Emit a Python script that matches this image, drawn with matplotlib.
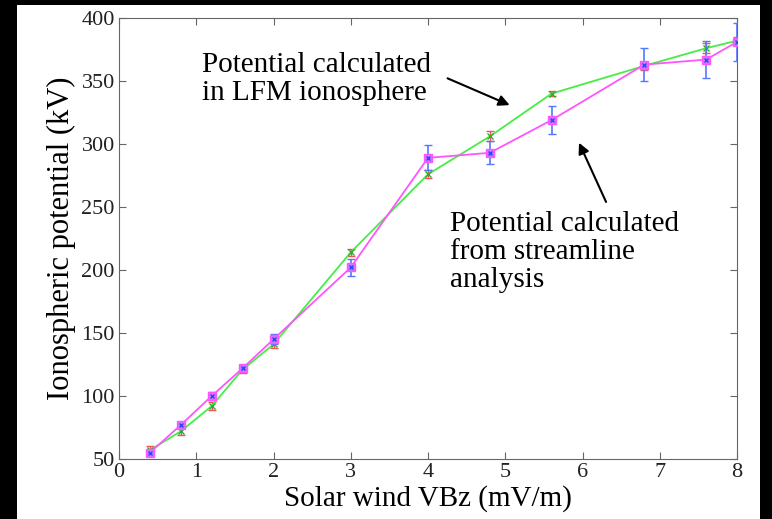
import matplotlib.pyplot as plt
from matplotlib.patches import Rectangle

plt.rcParams['font.family'] = ['Liberation Serif', 'DejaVu Serif']

vbz = [0.4, 0.8, 1.2, 1.6, 2.0, 3.0, 4.0, 4.8, 5.6, 6.8, 7.6, 8.0]

# potential from LFM ionosphere (green, red error bars)
lfm = [57, 72, 92, 121, 141, 214, 276, 306, 340, 362, 376, 382]
lfm_err = [3, 3, 3, 3, 3, 3, 3, 4, 2, 3, 4, 3]

# potential from streamline analysis (magenta, blue error bars)
stream = [55, 77, 100, 122, 145, 202, 289, 293, 319, 363, 367, 381]
stream_err = [2, 2, 3, 3, 4, 7, 10, 9, 11, 13, 15, 15]

fig = plt.figure(figsize=(7.72, 5.19), dpi=100, facecolor='black')
fig.patches.append(Rectangle((17/772, 0), (760-17)/772, (519-5)/519,
                             transform=fig.transFigure, facecolor='white',
                             edgecolor='none', zorder=-10))
ax = fig.add_axes([119/772, 1-459/519, (737-119)/772, (459-18)/519])

ax.errorbar(vbz, lfm, yerr=lfm_err, color='#44ee44', lw=1.3, ecolor='#ee5555',
            elinewidth=1, capsize=3, marker='x', ms=5, mec='#33aa33', zorder=3)
ax.errorbar(vbz, stream, yerr=stream_err, color='#ff55ff', lw=1.3, ecolor='#5577ff',
            elinewidth=1.2, capsize=3, marker='s', ms=6, mfc='#cc77ff',
            mec='#ff55ff', zorder=4)
ax.plot(vbz, stream, ls='none', marker='x', ms=3, color='#3344ff', zorder=5)

ax.set_xlim(0, 8)
ax.set_ylim(50, 400)
ax.set_xticks(range(0, 9))
ax.set_yticks(range(50, 401, 50))
ax.tick_params(direction='in', top=True, right=True, length=5, labelsize=16,
               color='#666666', labelcolor='#222222', pad=3)
for s in ax.spines.values():
    s.set_color('#666666')

ax.set_xlabel('Solar wind VBz (mV/m)', fontsize=21, labelpad=2)
ax.set_ylabel('Ionospheric potential (kV)', fontsize=22, labelpad=4)

ax.text(1.08, 373, 'Potential calculated\nin LFM ionosphere', fontsize=21,
        va='top', linespacing=1.1)
ax.annotate('', xy=(5.09, 330), xytext=(4.22, 353),
            arrowprops=dict(arrowstyle='-|>', color='black', lw=1.5,
                            mutation_scale=16))
ax.text(4.28, 247, 'Potential calculated\nfrom streamline\nanalysis', fontsize=21,
        va='top', linespacing=1.1)
ax.annotate('', xy=(5.94, 303), xytext=(6.32, 252),
            arrowprops=dict(arrowstyle='-|>', color='black', lw=1.5,
                            mutation_scale=16))

fig.savefig('out.png', dpi=100, facecolor=fig.get_facecolor())
